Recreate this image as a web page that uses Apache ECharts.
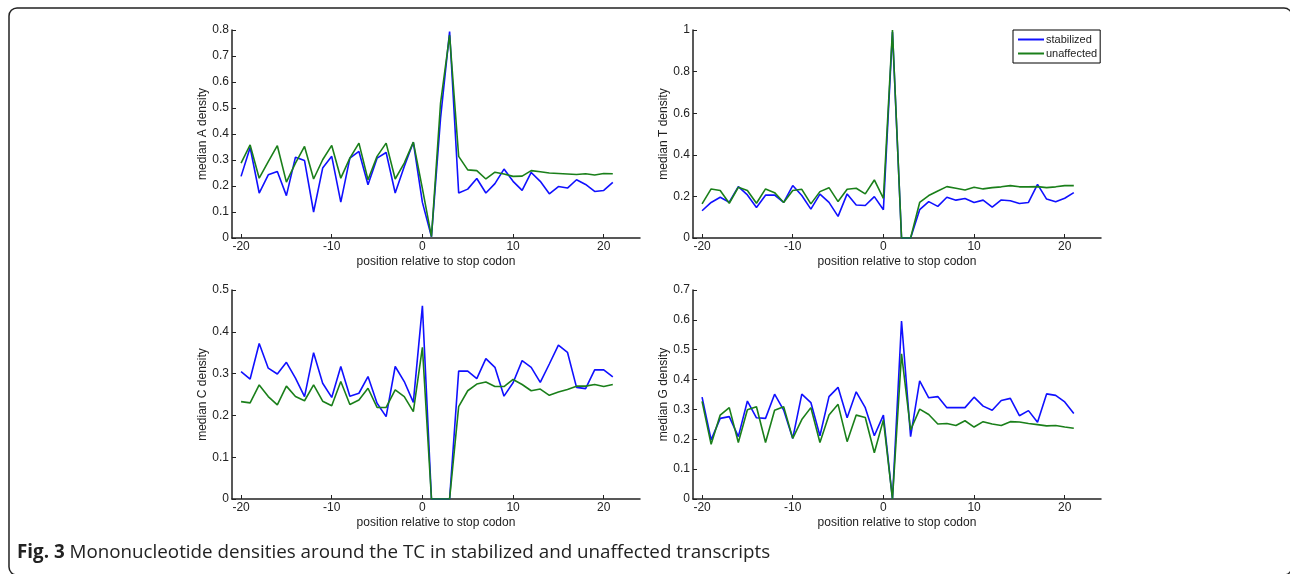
<!DOCTYPE html>
<html>
<head>
<meta charset="utf-8">
<style>
html,body{margin:0;padding:0;background:#fff;}
#chart{width:1290px;height:574px;}
</style>
<script src="https://cdn.jsdelivr.net/npm/echarts@6/dist/echarts.min.js"></script>
</head>
<body>
<div id="chart"></div>
<script>
const positions = [-20,-19,-18,-17,-16,-15,-14,-13,-12,-11,-10,-9,-8,-7,-6,-5,-4,-3,-2,-1,0,1,2,3,4,5,6,7,8,9,10,11,12,13,14,15,16,17,18,19,20,21];
const xTicks = [-20,-10,0,10,20];

const aStabilized = [0.237,0.348,0.173,0.243,0.256,0.163,0.311,0.298,0.100,0.269,0.314,0.138,0.307,0.333,0.205,0.307,0.329,0.173,0.275,0.368,0.137,0.005,0.46,0.794,0.173,0.188,0.229,0.173,0.209,0.265,0.218,0.183,0.252,0.218,0.170,0.198,0.192,0.224,0.206,0.179,0.183,0.214];
const aUnaffected = [0.288,0.358,0.230,0.294,0.355,0.215,0.288,0.352,0.227,0.301,0.356,0.230,0.307,0.365,0.224,0.314,0.365,0.227,0.288,0.369,0.19,0.005,0.518,0.78,0.314,0.262,0.259,0.227,0.253,0.246,0.237,0.238,0.259,0.255,0.250,0.248,0.246,0.244,0.247,0.242,0.248,0.247];

const tStabilized = [0.131,0.171,0.196,0.172,0.247,0.207,0.147,0.206,0.206,0.171,0.252,0.204,0.139,0.211,0.171,0.104,0.212,0.159,0.156,0.199,0.136,0.99,0,0,0.136,0.175,0.152,0.196,0.182,0.190,0.171,0.182,0.148,0.183,0.179,0.166,0.171,0.258,0.187,0.174,0.191,0.218];
const tUnaffected = [0.164,0.236,0.228,0.167,0.244,0.228,0.167,0.236,0.218,0.171,0.228,0.234,0.164,0.223,0.242,0.175,0.234,0.239,0.212,0.279,0.191,1.0,0,0,0.171,0.204,0.226,0.247,0.239,0.231,0.244,0.236,0.242,0.246,0.252,0.246,0.246,0.247,0.242,0.246,0.252,0.252];

const cStabilized = [0.305,0.287,0.372,0.313,0.299,0.327,0.289,0.245,0.350,0.277,0.243,0.317,0.246,0.253,0.293,0.229,0.197,0.317,0.281,0.231,0.462,0,0,0,0.306,0.306,0.288,0.336,0.315,0.246,0.278,0.331,0.315,0.279,0.323,0.368,0.351,0.267,0.264,0.309,0.309,0.292];
const cUnaffected = [0.233,0.230,0.273,0.245,0.225,0.270,0.245,0.235,0.273,0.234,0.223,0.281,0.226,0.237,0.265,0.219,0.219,0.261,0.245,0.209,0.363,0,0,0,0.221,0.259,0.275,0.280,0.269,0.269,0.286,0.274,0.259,0.263,0.248,0.256,0.262,0.270,0.270,0.274,0.269,0.274];

const gStabilized = [0.341,0.198,0.270,0.276,0.209,0.328,0.272,0.270,0.351,0.298,0.203,0.351,0.323,0.212,0.343,0.374,0.272,0.359,0.306,0.212,0.281,0,0.596,0.209,0.396,0.339,0.343,0.306,0.306,0.306,0.341,0.311,0.297,0.330,0.337,0.279,0.296,0.257,0.352,0.347,0.325,0.286];
const gUnaffected = [0.327,0.183,0.281,0.306,0.189,0.299,0.309,0.189,0.297,0.309,0.203,0.266,0.306,0.189,0.281,0.317,0.192,0.281,0.273,0.155,0.265,0,0.486,0.231,0.301,0.283,0.251,0.253,0.246,0.262,0.241,0.259,0.251,0.246,0.259,0.258,0.253,0.249,0.245,0.246,0.241,0.237];

const panels = [
  {name:'median A density', max:0.8, interval:0.1, s:aStabilized, u:aUnaffected, left:232, top:30, height:208},
  {name:'median T density', max:1.0, interval:0.2, s:tStabilized, u:tUnaffected, left:693, top:30, height:208},
  {name:'median C density', max:0.5, interval:0.1, s:cStabilized, u:cUnaffected, left:232, top:290, height:209},
  {name:'median G density', max:0.7, interval:0.1, s:gStabilized, u:gUnaffected, left:693, top:290, height:209}
];

const axisColor = '#222';
const textStyle = {color:'#222', fontFamily:'Liberation Sans, Arial, sans-serif', fontSize:12};
const grids = [], xAxes = [], yAxes = [], series = [];
panels.forEach((p, i) => {
  grids.push({left:p.left, top:p.top, width:408, height:p.height});
  xAxes.push({
    type:'value', gridIndex:i, min:-21, max:24,
    name:'position relative to stop codon', nameLocation:'middle', nameGap:18,
    nameTextStyle:textStyle,
    axisLine:{show:true, onZero:false, lineStyle:{color:axisColor, width:1.5}},
    axisTick:{show:true, inside:true, length:4, customValues:xTicks, lineStyle:{color:axisColor}},
    axisLabel:{customValues:xTicks, margin:3, ...textStyle},
    splitLine:{show:false}
  });
  yAxes.push({
    type:'value', gridIndex:i, min:0, max:p.max, interval:p.interval,
    name:p.name, nameLocation:'middle', nameGap:22, nameRotate:90,
    nameTextStyle:textStyle,
    axisLine:{show:true, onZero:false, lineStyle:{color:axisColor, width:1.5}},
    axisTick:{show:true, inside:true, length:4, lineStyle:{color:axisColor}},
    axisLabel:{margin:3, ...textStyle, formatter:v => String(+v.toFixed(1))},
    splitLine:{show:false}
  });
  series.push({
    name:'stabilized', type:'line', xAxisIndex:i, yAxisIndex:i, symbol:'none',
    data:positions.map((x,k)=>[x,p.s[k]]),
    lineStyle:{color:'#1010ff', width:1.6}, itemStyle:{color:'#1010ff'}
  });
  series.push({
    name:'unaffected', type:'line', xAxisIndex:i, yAxisIndex:i, symbol:'none',
    data:positions.map((x,k)=>[x,p.u[k]]),
    lineStyle:{color:'#1a7f1a', width:1.6}, itemStyle:{color:'#1a7f1a'}
  });
});

const chart = echarts.init(document.getElementById('chart'));
chart.setOption({
  animation:false,
  backgroundColor:'#fff',
  grid:grids, xAxis:xAxes, yAxis:yAxes, series:series,
  legend:{
    data:['stabilized','unaffected'],
    orient:'vertical', left:1013, top:30,
    borderColor:'#000', borderWidth:1, padding:[4,3,4,5], itemGap:3,
    icon:'rect', itemWidth:26, itemHeight:2,
    textStyle:{...textStyle, fontSize:11, padding:[0,0,0,-3]}
  },
  graphic:[
    {type:'rect', shape:{x:9, y:8, width:1283, height:567, r:8}, style:{fill:'none', stroke:'#222', lineWidth:1.5}},
    {type:'text', left:17, top:543, style:{
      text:'{b|Fig. 3} Mononucleotide densities around the TC in stabilized and unaffected transcripts',
      rich:{b:{fontWeight:'bold', fontSize:18.8, fontFamily:'Open Sans, sans-serif', fill:'#222'}},
      fontSize:18.8, fontFamily:'Open Sans, sans-serif', fill:'#222'
    }}
  ]
});
</script>
</body>
</html>
